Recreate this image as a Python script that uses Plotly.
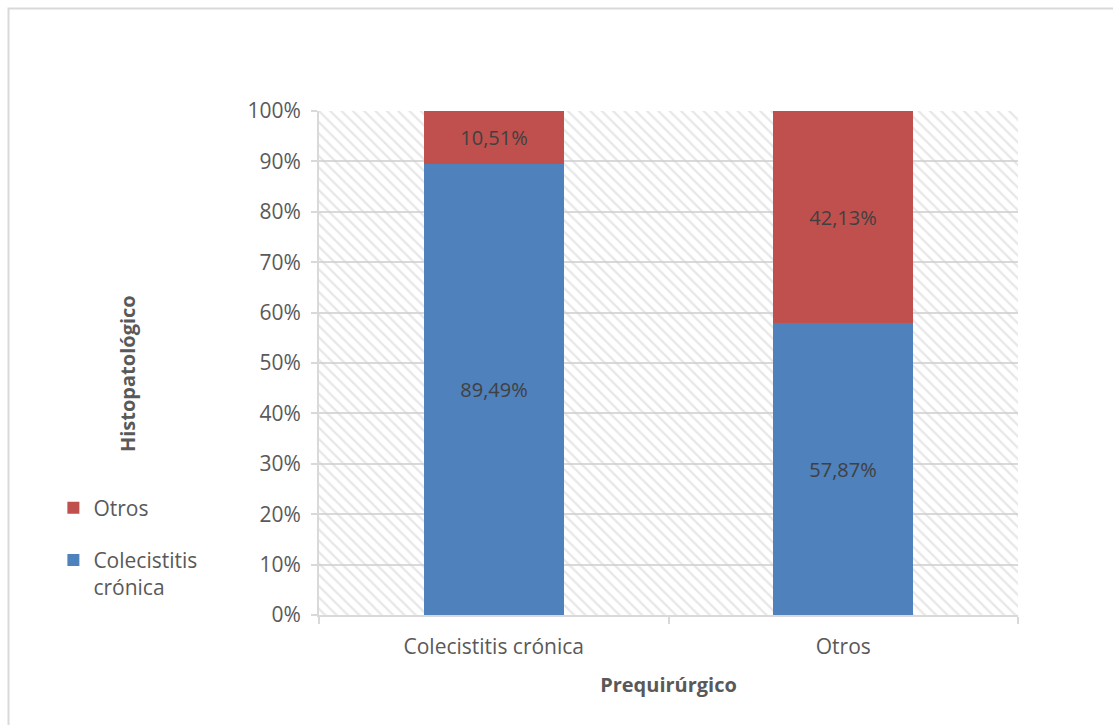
import plotly.graph_objects as go

categories = ["Colecistitis crónica", "Otros"]
colecistitis = [89.49, 57.87]
otros = [10.51, 42.13]
y_ticks = [0, 10, 20, 30, 40, 50, 60, 70, 80, 90, 100]
y_tick_labels = [f"{v}%" for v in y_ticks]

def fmt(v):
    return f"{v:.2f}".replace(".", ",") + "%"

FONT = "Open Sans, Segoe UI, sans-serif"
GRID = "#d9d9d9"
TXT = "#595959"

fig = go.Figure()

# hatched plot-area background
fig.add_trace(go.Bar(
    x=[0.5], y=[100], width=[1], xaxis="x", yaxis="y",
    marker=dict(color="rgba(0,0,0,0)", line=dict(width=0),
                pattern=dict(shape="\\", fgcolor="#cfcfcf", size=8, solidity=0.28,
                             fillmode="overlay")),
    hoverinfo="skip", showlegend=False,
))

fig.add_trace(go.Bar(
    name="Colecistitis<br>crónica", x=categories, y=colecistitis,
    xaxis="x2", yaxis="y", legendgroup="a", legendrank=2,
    marker=dict(color="#4f81bd", line=dict(width=0)),
    text=[fmt(v) for v in colecistitis], textposition="inside",
    insidetextanchor="middle", textfont=dict(color="#404040", size=20, family=FONT),
    width=0.4,
))
fig.add_trace(go.Bar(
    name="Otros", x=categories, y=otros, base=colecistitis,
    xaxis="x2", yaxis="y", legendgroup="b", legendrank=1,
    marker=dict(color="#c0504d", line=dict(width=0)),
    text=[fmt(v) for v in otros], textposition="inside",
    insidetextanchor="middle", textfont=dict(color="#404040", size=20, family=FONT),
    width=0.4,
))

fig.update_layout(
    width=1113, height=725,
    margin=dict(l=319, r=95, t=111, b=110),
    paper_bgcolor="white", plot_bgcolor="white",
    barmode="overlay",
    font=dict(family=FONT, size=21, color=TXT),
    xaxis=dict(range=[0, 1], visible=False, showgrid=False, zeroline=False, fixedrange=True),
    xaxis2=dict(overlaying="x", anchor="y", side="bottom", type="category",
                categoryorder="array", categoryarray=categories,
                range=[-0.5, 1.5],
                showgrid=False, showline=True, linecolor=GRID, linewidth=2,
                ticks="outside", tickson="boundaries", ticklen=7, tickcolor=GRID, tickwidth=2,
                ticklabelstandoff=12,
                tickfont=dict(size=21, color=TXT),
                title=dict(text="<b>Prequirúrgico</b>", font=dict(size=20, color=TXT), standoff=19)),
    yaxis=dict(range=[0, 100], tickvals=y_ticks, ticktext=y_tick_labels,
               showgrid=True, gridcolor=GRID, gridwidth=2,
               showline=True, linecolor=GRID, linewidth=2,
               ticks="outside", ticklen=6, tickcolor=GRID, tickwidth=2,
               ticklabelstandoff=6,
               zeroline=False, tickfont=dict(size=21, color=TXT)),
    annotations=[dict(text="<b>Histopatológico</b>", textangle=-90,
                      xref="paper", yref="paper", x=-0.2747, y=0.480,
                      xanchor="center", yanchor="middle", showarrow=False,
                      font=dict(size=20, color=TXT, family=FONT))],
    legend=dict(x=-0.38, y=0.253, xanchor="left", yanchor="top",
                traceorder="grouped", tracegroupgap=22, valign="top",
                font=dict(size=21, color=TXT), bgcolor="rgba(0,0,0,0)"),
    shapes=[dict(type="rect", xref="paper", yref="paper",
                 x0=-0.4442, x1=1.2, y0=-0.3, y1=1.2034,
                 line=dict(color=GRID, width=2), fillcolor="rgba(0,0,0,0)", layer="below")],
    bargap=0,
)

fig.write_html("out.html")
